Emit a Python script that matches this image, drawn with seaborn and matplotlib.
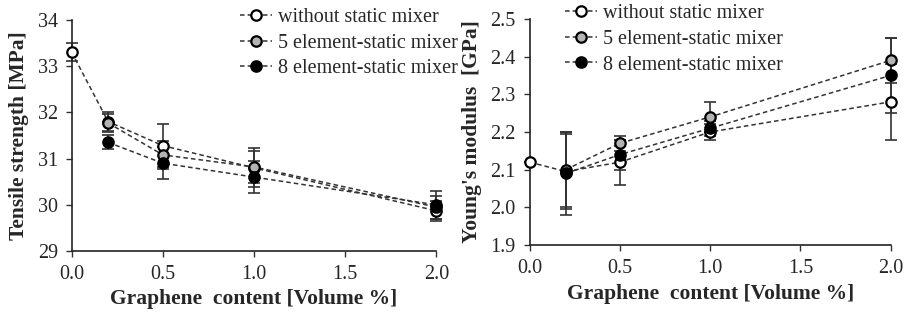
import numpy as np
import pandas as pd
import seaborn as sns
import matplotlib.pyplot as plt

series = ['without static mixer', '5 element-static mixer', '8 element-static mixer']
faces = ['white', '#b4b4b4', 'black']

# tensile strength [MPa]
x_wo = [0.0, 0.2, 0.5, 1.0, 2.0]
ts_wo = [33.3, 31.8, 31.28, 30.8, 29.87]
ts_wo_err = [0.2, 0.2, 0.47, 0.42, 0.22]
x_mix = [0.2, 0.5, 1.0, 2.0]
ts_5 = [31.77, 31.08, 30.82, 29.95]
ts_5_err = [0.2, 0.3, 0.35, 0.25]
ts_8 = [31.35, 30.9, 30.6, 30.0]
ts_8_err = [0.15, 0.35, 0.35, 0.3]

# young's modulus [GPa]
ym_wo = [2.12, 2.095, 2.12, 2.20, 2.28]
ym_wo_err = [0.0, 0.1, 0.06, 0.02, 0.1]
ym_5 = [2.10, 2.17, 2.24, 2.39]
ym_5_err = [0.1, 0.02, 0.04, 0.06]
ym_8 = [2.09, 2.14, 2.21, 2.35]
ym_8_err = [0.11, 0.04, 0.02, 0.1]

xticks = [0.0, 0.5, 1.0, 1.5, 2.0]
xticklabels = ['0.0', '0.5', '1.0', '1.5', '2.0']

sns.set_style('white')
plt.rcParams['font.family'] = ['Liberation Serif', 'DejaVu Serif']


def make_df(ys, errs):
    frames = []
    xs = [x_wo, x_mix, x_mix]
    for name, x, y, e in zip(series, xs, ys, errs):
        frames.append(pd.DataFrame({'x': x, 'y': y, 'err': e, 'series': name}))
    return pd.concat(frames, ignore_index=True)


def draw(ax, df, ylim, yticks, ylabel, legend_anchor):
    for name, fc in zip(series, faces):
        sub = df[df['series'] == name]
        ax.errorbar(sub['x'], sub['y'], yerr=sub['err'], fmt='none',
                    ecolor='#333333', elinewidth=1.2, capsize=4, capthick=1.2,
                    zorder=2)
        sns.lineplot(data=sub, x='x', y='y', ax=ax, label=name,
                     color='#333333', linestyle=(0, (3, 2)), linewidth=1.1,
                     marker='o', markersize=7.5, markerfacecolor=fc,
                     markeredgecolor='black', markeredgewidth=1.6,
                     estimator=None, sort=False, zorder=3)
    ax.set_xlim(0, 2.0)
    ax.set_ylim(*ylim)
    ax.set_xticks(xticks)
    ax.set_xticklabels(xticklabels)
    ax.set_yticks(yticks)
    ax.set_xlabel('Graphene  content [Volume %]', fontsize=15.5,
                  fontweight='bold', labelpad=4)
    ax.set_ylabel(ylabel, fontsize=15.5, fontweight='bold', labelpad=6)
    ax.tick_params(axis='both', labelsize=14.5, direction='out', length=4,
                   width=1, color='#333333', bottom=True, left=True)
    ax.tick_params(axis='x', pad=6)
    ax.tick_params(axis='y', pad=6)
    ax.spines['top'].set_visible(False)
    ax.spines['right'].set_visible(False)
    for s in ['left', 'bottom']:
        ax.spines[s].set_color('#222222')
        ax.spines[s].set_linewidth(1.2)
    for art in ax.lines + ax.collections:
        art.set_clip_on(False)
    ax.legend(loc='upper left', bbox_to_anchor=legend_anchor, frameon=False,
              fontsize=14.5, handlelength=1.6, handletextpad=0.3,
              labelspacing=0.32, borderaxespad=0)


fig = plt.figure(figsize=(9.07, 3.15), dpi=100)
ax1 = fig.add_axes([0.079, 0.203, 0.402, 0.734])
ax2 = fig.add_axes([0.584, 0.222, 0.398, 0.718])

df_ts = make_df([ts_wo, ts_5, ts_8], [ts_wo_err, ts_5_err, ts_8_err])
df_ym = make_df([ym_wo, ym_5, ym_8], [ym_wo_err, ym_5_err, ym_8_err])

draw(ax1, df_ts, (29, 34), [29, 30, 31, 32, 33, 34],
     'Tensile strength [MPa]', (0.44, 1.085))
draw(ax2, df_ym, (1.9, 2.5), [1.9, 2.0, 2.1, 2.2, 2.3, 2.4, 2.5],
     "Young's modulus  [GPa]", (0.075, 1.1))
ax2.set_yticklabels(['1.9', '2.0', '2.1', '2.2', '2.3', '2.4', '2.5'])

fig.savefig('out.png', dpi=100)
